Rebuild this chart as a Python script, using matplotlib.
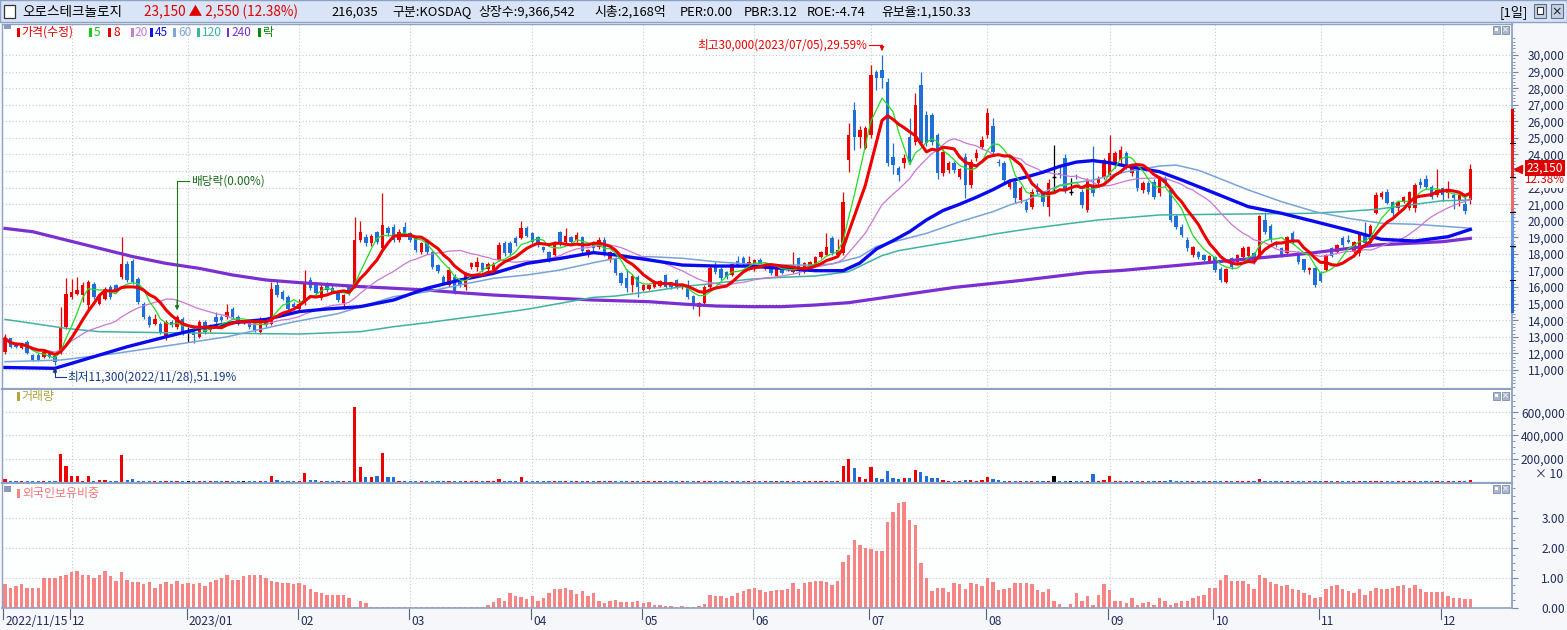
import numpy as np
import pandas as pd
import matplotlib
matplotlib.use('Agg')
import matplotlib.pyplot as plt
import matplotlib.transforms as mtransforms
from matplotlib.patches import Rectangle

plt.rcParams['font.family'] = ['Noto Sans CJK KR', 'DejaVu Sans']
plt.rcParams['axes.unicode_minus'] = False

W, H = 1567, 630

# ---------------- data ----------------
month_starts = [0, 12, 33, 53, 73, 95, 115, 135, 156, 177, 199, 218, 237, 259]
month_labels = ['2022/11/15', '12', '2023/01', '02', '03', '04', '05', '06',
                '07', '08', '09', '10', '11', '12']

opens = [
    12100, 12900, 12600, 12300, 12700, 11900, 11900, 11800, 12100, 11850,
    12000, 13600, 15400, 15600, 15500, 14900, 16200, 15000, 15300, 16000,
    16100, 16600, 17400, 17600, 16500, 15000, 14200, 13800, 13800, 12900,
    13900, 13600, 14100, 13300, 13400, 13000, 13900, 13400, 14200, 14200,
    14200, 14700, 14200, 13900, 14000, 13800, 13300, 14000, 13800, 16100,
    15700, 15400, 15000, 14700, 15020, 16430, 16230, 15320, 16130, 15970,
    15720, 15020, 16030, 16030, 18840, 19000, 18640, 19340, 18340, 19540,
    19640, 18840, 19640, 19240, 18940, 18140, 18840, 18140, 17330, 16630,
    16130, 16630, 16330, 16030, 17190, 17230, 17430, 17070, 17030, 17630,
    18640, 18680, 18940, 18940, 19540, 19240, 19000, 18440, 18140, 17930,
    19340, 18740, 19040, 18840, 19040, 17940, 18640, 18440, 18840, 17640,
    17740, 16830, 16530, 16130, 16630, 15830, 15870, 16030, 16070, 16730,
    16230, 16430, 15990, 16130, 15460, 14820, 15020, 16030, 17270, 17070,
    16930, 16730, 17570, 17730, 17130, 17130, 17630, 17130, 17230, 16670,
    17190, 17030, 16930, 17730, 16930, 17130, 17330, 17830, 17940, 18940,
    17940, 18040, 23670, 26680, 25070, 24370, 25170, 28990, 29100, 28390,
    23870, 23160, 23470, 25070, 24770, 28190, 26380, 26380, 25170, 22860,
    23070, 23470, 22660, 23870, 22160, 23770, 24470, 25170, 25720, 23570,
    23470, 22060, 22360, 21250, 21150, 20850, 21860, 21650, 20850, 22620,
    22900, 23770, 21760, 22660, 21760, 20650, 22060, 22260, 22660, 22760,
    23370, 23670, 24070, 22860, 23060, 21860, 22260, 22360, 21660, 22560,
    21860, 20290, 19650, 18840, 17940, 18140, 17940, 17540, 17840, 17070,
    16330, 17740, 17530, 17840, 17880, 18040, 17840, 20050, 19690, 18740,
    18340, 18040, 19240, 18140, 17670, 17030, 17130, 16870, 17030, 18340,
    18140, 18940, 18840, 18140, 18040, 19080, 18640, 20490, 21450, 21750,
    21150, 20750, 21150, 20750, 20750, 22350, 22550, 22050, 21550, 21950,
    21650, 21550, 21250, 21000, 21250,
]
highs = [
    13200, 12950, 12700, 12600, 12800, 11950, 12000, 12150, 12150, 11900,
    14800, 16550, 16500, 16600, 16300, 16400, 16300, 15600, 16000, 16100,
    16200, 19000, 17600, 17700, 16600, 15100, 14300, 14400, 13900, 14000,
    14000, 14300, 14200, 13600, 13500, 14000, 14000, 13800, 14500, 14300,
    15000, 14800, 14300, 14000, 14100, 13900, 14200, 14100, 16300, 16400,
    15800, 15500, 15100, 15300, 17030, 16600, 16300, 16200, 16300, 16100,
    15800, 15600, 16100, 20230, 20000, 19200, 19200, 19400, 21680, 19700,
    19800, 19500, 19900, 19300, 19000, 18700, 18900, 18200, 17400, 16700,
    17200, 16800, 16400, 16900, 17500, 17800, 17500, 17500, 17500, 18700,
    18800, 18800, 19100, 19990, 19700, 19300, 19100, 18500, 18200, 18800,
    19400, 19540, 19100, 19300, 19100, 18300, 18800, 19000, 19000, 18200,
    17800, 16900, 17100, 16800, 16700, 16200, 16200, 16400, 16450, 16800,
    16300, 16500, 16200, 16400, 15500, 15100, 16100, 17300, 17500, 17200,
    17000, 17450, 17900, 17900, 17850, 17700, 17750, 17450, 17300, 17150,
    17250, 17250, 18100, 17800, 17500, 17600, 17900, 18200, 19250, 19100,
    18900, 21750, 25880, 27180, 25700, 25700, 29400, 29100, 30000, 28600,
    24700, 23300, 24000, 26200, 27700, 29000, 26600, 26500, 25300, 24300,
    23600, 23600, 23200, 24100, 23700, 24300, 25100, 26800, 26200, 23700,
    23600, 22400, 22500, 22100, 21300, 21900, 22300, 21700, 22500, 24570,
    23300, 24000, 22560, 22800, 21900, 22600, 24500, 22700, 23800, 25170,
    24200, 24500, 24200, 23400, 23200, 22400, 22400, 22500, 22700, 22700,
    22000, 20400, 19800, 19000, 18500, 18200, 18000, 17950, 17900, 17200,
    17150, 17800, 18000, 18500, 18500, 18100, 20350, 20550, 19800, 18800,
    18400, 19100, 19400, 18200, 17700, 17200, 17200, 16950, 18000, 18400,
    18600, 19100, 19150, 18800, 19300, 19950, 19800, 21750, 21800, 21900,
    21200, 21200, 21500, 21800, 22250, 22600, 22750, 22150, 23150, 22050,
    22400, 21650, 21650, 21500, 23450,
]
lows = [
    11950, 12300, 12350, 12250, 11950, 11550, 11550, 11750, 11750, 11300,
    11950, 13500, 15300, 15500, 15100, 14700, 15300, 14900, 15200, 15300,
    15700, 16500, 16300, 16200, 15000, 14100, 13600, 13700, 13200, 12800,
    13600, 13500, 13100, 12700, 12600, 12900, 13200, 13300, 13800, 13900,
    14100, 14100, 13700, 13800, 13500, 13300, 13200, 13600, 13700, 15400,
    15200, 14600, 14600, 14500, 14900, 15800, 15500, 15200, 15700, 15650,
    15100, 14700, 15500, 15950, 18700, 18500, 18500, 18600, 18200, 19100,
    18700, 18700, 19100, 18700, 18100, 18000, 18000, 17100, 16850, 16100,
    16000, 15600, 16000, 15800, 17100, 17000, 16900, 17000, 16900, 17550,
    17900, 17900, 18500, 18900, 19000, 18600, 18400, 18100, 17500, 17800,
    18500, 18600, 18600, 18700, 18000, 17800, 18200, 18300, 17900, 17500,
    16700, 16100, 15700, 15700, 15400, 15750, 15800, 15950, 16000, 15950,
    15900, 15900, 15900, 15300, 14700, 14260, 14900, 15900, 16800, 16400,
    16500, 16650, 17200, 17350, 17050, 17000, 17300, 17050, 16750, 16600,
    16800, 16950, 16850, 16750, 16850, 17050, 17250, 17750, 17850, 17950,
    17850, 17950, 22960, 24270, 24400, 24300, 25000, 27900, 28000, 23300,
    22800, 22400, 23200, 23400, 24600, 24500, 24500, 24600, 22500, 22700,
    22900, 22900, 22500, 21400, 22000, 23600, 24300, 25000, 24000, 23300,
    22300, 21900, 21100, 21100, 20500, 20700, 21600, 20900, 20300, 21660,
    22600, 21700, 21550, 22500, 20800, 20500, 21500, 22100, 22500, 22600,
    23200, 23400, 23100, 22700, 21800, 21700, 21600, 21300, 21500, 22100,
    19900, 19500, 19000, 18200, 17800, 17700, 17550, 17450, 16900, 16300,
    16250, 17100, 17400, 17700, 17800, 17400, 17750, 19200, 18700, 18400,
    17800, 17900, 18600, 17400, 16900, 16800, 16000, 16300, 16950, 17800,
    18050, 18400, 18650, 18050, 17900, 18500, 18500, 20400, 21300, 21000,
    20300, 20600, 21050, 20650, 20500, 22000, 21900, 21300, 21450, 21200,
    21400, 20700, 20900, 20400, 21000,
]
closes = [
    12900, 12400, 12400, 12500, 12000, 11600, 11600, 12100, 11800, 11500,
    13600, 15600, 15700, 15800, 16100, 16300, 15400, 15500, 15900, 15400,
    15800, 17400, 16400, 16300, 15100, 14200, 13700, 14100, 13300, 13900,
    13700, 14200, 13200, 13300, 13100, 13900, 13300, 13700, 13900, 14000,
    14500, 14200, 13800, 13900, 13600, 13400, 14100, 13700, 15900, 15500,
    15300, 14700, 14800, 15000, 16330, 15930, 15620, 16030, 15830, 15720,
    15220, 15520, 15620, 18840, 19340, 18680, 19080, 18740, 19750, 19240,
    18840, 19340, 19200, 18840, 18240, 18640, 18140, 17230, 16970, 16230,
    17030, 15720, 16130, 16830, 17430, 17530, 17030, 17390, 17390, 18540,
    18040, 18040, 18640, 19540, 19080, 18740, 18540, 18240, 17630, 18740,
    18640, 19080, 18740, 19140, 18200, 18240, 18340, 18840, 18040, 18140,
    16830, 16230, 15930, 16670, 16030, 16130, 16130, 16330, 16390, 16030,
    15990, 15990, 16130, 15420, 14860, 15020, 16030, 17130, 16930, 16530,
    16590, 17390, 17270, 17430, 17530, 17630, 17390, 17390, 16830, 17070,
    16870, 17190, 17230, 17030, 17430, 17530, 17830, 18140, 18440, 18040,
    18240, 21150, 25170, 25070, 25470, 25570, 28790, 28590, 28590, 23470,
    23370, 22760, 23770, 23570, 26980, 24670, 24670, 24770, 22860, 24170,
    23470, 23070, 23100, 22160, 23570, 24070, 24870, 26480, 24170, 23470,
    22460, 22260, 21350, 21960, 20650, 21760, 21760, 21150, 22260, 22620,
    22760, 21860, 21760, 22620, 20950, 22460, 21660, 22560, 23670, 24070,
    24070, 24270, 23260, 23260, 21960, 22260, 21760, 21460, 22500, 22260,
    20050, 19650, 19140, 18340, 18440, 17840, 17640, 17880, 17030, 16430,
    17070, 17240, 17940, 18340, 18440, 17530, 20290, 19340, 18840, 18540,
    17940, 19040, 18740, 17530, 17030, 17130, 16130, 16390, 17940, 17880,
    18540, 18540, 18740, 18740, 19200, 18640, 19690, 21550, 21650, 21090,
    20490, 21150, 21450, 21750, 22150, 22150, 22050, 21450, 21850, 21550,
    21800, 21350, 21550, 20600, 23150,
]
volumes = [
    23000, 9000, 6000, 6000, 5000, 5000, 5000, 6000, 5000, 6000,
    243000, 138000, 51000, 51000, 10000, 51000, 10000, 17000, 17000, 6000,
    10000, 234000, 17000, 23000, 12000, 12000, 6000, 10000, 6000, 12000,
    6000, 5000, 6000, 5000, 6000, 6000, 5000, 5000, 5000, 6000,
    5000, 5000, 5000, 5000, 5000, 5000, 6000, 5000, 51000, 17000,
    6000, 6000, 6000, 5000, 77000, 15000, 15000, 5000, 5000, 5000,
    5000, 5000, 10000, 643000, 130000, 43000, 43000, 51000, 251000, 43000,
    43000, 10000, 10000, 10000, 6000, 5000, 10000, 5000, 5000, 5000,
    5000, 6000, 5000, 5000, 6000, 5000, 5000, 5000, 5000, 23000,
    5000, 6000, 10000, 43000, 10000, 5000, 5000, 5000, 5000, 5000,
    10000, 10000, 5000, 5000, 5000, 5000, 10000, 5000, 5000, 5000,
    6000, 5000, 5000, 5000, 5000, 5000, 5000, 5000, 5000, 5000,
    5000, 5000, 5000, 5000, 5000, 5000, 5000, 6000, 5000, 5000,
    5000, 5000, 5000, 5000, 5000, 5000, 5000, 5000, 5000, 5000,
    5000, 5000, 6000, 5000, 5000, 5000, 10000, 6000, 10000, 6000,
    6000, 138000, 199000, 121000, 43000, 26000, 130000, 35000, 26000, 95000,
    35000, 26000, 35000, 35000, 104000, 86000, 51000, 35000, 35000, 17000,
    6000, 10000, 10000, 17000, 17000, 10000, 17000, 43000, 26000, 17000,
    10000, 6000, 6000, 10000, 6000, 6000, 6000, 6000, 6000, 51000,
    10000, 10000, 5000, 10000, 10000, 10000, 69000, 5000, 17000, 51000,
    10000, 6000, 6000, 10000, 10000, 6000, 6000, 6000, 6000, 6000,
    17000, 6000, 6000, 6000, 6000, 6000, 6000, 6000, 6000, 6000,
    6000, 6000, 6000, 6000, 6000, 6000, 26000, 6000, 6000, 6000,
    6000, 6000, 6000, 6000, 6000, 6000, 6000, 6000, 6000, 6000,
    6000, 6000, 6000, 6000, 6000, 6000, 6000, 10000, 6000, 6000,
    6000, 6000, 6000, 6000, 10000, 6000, 6000, 6000, 10000, 6000,
    6000, 6000, 6000, 6000, 17000,
]
foreign_ratio = [
    0.78, 0.67, 0.74, 0.78, 0.67, 0.67, 0.67, 0.98, 1.00, 0.98,
    1.06, 1.09, 1.19, 1.22, 1.09, 1.09, 0.98, 1.09, 1.22, 1.06,
    0.89, 1.19, 0.94, 0.87, 0.86, 0.78, 0.86, 0.67, 0.78, 0.86,
    0.78, 0.89, 0.78, 0.81, 0.78, 0.83, 0.72, 0.86, 0.94, 0.98,
    1.09, 0.94, 0.94, 1.06, 1.09, 1.09, 1.11, 0.98, 0.90, 0.86,
    0.81, 0.81, 0.78, 0.81, 0.77, 0.61, 0.52, 0.48, 0.41, 0.41,
    0.41, 0.44, 0.33, 0.02, 0.24, 0.17, 0.02, 0.02, 0.02, 0.02,
    0.02, 0.02, 0.02, 0.02, 0.02, 0.02, 0.02, 0.02, 0.02, 0.02,
    0.02, 0.02, 0.02, 0.02, 0.02, 0.02, 0.02, 0.09, 0.19, 0.31,
    0.22, 0.48, 0.39, 0.36, 0.28, 0.38, 0.22, 0.33, 0.50, 0.64,
    0.61, 0.67, 0.58, 0.47, 0.56, 0.39, 0.50, 0.22, 0.17, 0.21,
    0.26, 0.19, 0.20, 0.19, 0.23, 0.17, 0.19, 0.09, 0.09, 0.07,
    0.07, 0.04, 0.07, 0.04, 0.04, 0.07, 0.12, 0.41, 0.38, 0.38,
    0.34, 0.38, 0.48, 0.56, 0.64, 0.67, 0.58, 0.52, 0.56, 0.58,
    0.58, 0.64, 0.81, 0.64, 0.82, 0.86, 0.89, 0.91, 0.86, 0.77,
    0.91, 1.53, 1.78, 2.28, 2.11, 2.01, 1.96, 1.91, 1.91, 2.88,
    3.21, 3.51, 3.54, 2.92, 2.77, 1.49, 1.01, 0.57, 0.67, 0.67,
    0.52, 0.82, 0.79, 0.64, 0.81, 0.79, 0.73, 1.01, 0.86, 0.58,
    0.64, 0.67, 0.83, 0.81, 0.81, 0.78, 0.58, 0.51, 0.62, 0.23,
    0.12, 0.04, 0.12, 0.48, 0.23, 0.39, 0.09, 0.44, 0.78, 0.58,
    0.23, 0.23, 0.16, 0.33, 0.09, 0.16, 0.18, 0.09, 0.33, 0.23,
    0.09, 0.16, 0.23, 0.23, 0.33, 0.39, 0.43, 0.67, 0.67, 0.94,
    1.08, 0.89, 0.89, 0.91, 0.78, 0.62, 1.08, 0.98, 0.86, 0.78,
    0.71, 0.76, 0.64, 0.58, 0.48, 0.44, 0.33, 0.37, 0.62, 0.71,
    0.76, 0.62, 0.57, 0.48, 0.64, 0.42, 0.57, 0.67, 0.64, 0.62,
    0.67, 0.71, 0.76, 0.67, 0.76, 0.62, 0.51, 0.54, 0.54, 0.51,
    0.39, 0.33, 0.31, 0.28, 0.28,
]

# longer moving averages, read at a handful of bars (their history starts before the chart)
ma45_idx = [0, 9, 16, 22, 29, 35, 41, 47, 53, 58, 64, 70, 76, 82, 88, 94, 100, 106, 110, 116,
            122, 128, 134, 140, 146, 151, 154, 157, 160, 163, 166, 169, 172, 175, 178, 181, 184,
            187, 190, 193, 196, 199, 202, 208, 212, 218, 224, 230, 236, 242, 248, 254, 260, 264]
ma45_val = [11150, 11100, 11800, 12400, 13000, 13500, 13850, 14050, 14520, 14680, 14820, 15220,
            15930, 16430, 16830, 17430, 17730, 18080, 17940, 17640, 17330, 17270, 17270, 17130,
            16990, 16990, 17450, 18300, 18800, 19350, 20050, 20620, 21000, 21420, 21880, 22400,
            22640, 22930, 23280, 23540, 23630, 23500, 23300, 22960, 22460, 21660, 20850, 20450,
            19950, 19440, 18880, 18780, 19040, 19480]
ma60_idx = [0, 10, 20, 30, 40, 52, 60, 70, 76, 82, 88, 94, 100, 106, 110, 116, 122, 128, 134, 140,
            146, 149, 154, 157, 160, 166, 172, 178, 181, 184, 190, 196, 202, 208, 211, 215, 218,
            224, 230, 236, 242, 248, 254, 260, 264]
ma60_val = [11500, 11600, 12000, 12500, 13000, 13900, 14400, 15420, 15720, 16130, 16530, 16730,
            17030, 17470, 17730, 17840, 17740, 17530, 17390, 17330, 17330, 17390, 17830, 18450,
            18720, 19240, 19940, 20550, 20950, 21250, 22150, 22460, 22960, 23300, 23360, 23050,
            22660, 21860, 21150, 20550, 20150, 19850, 19790, 19650, 19550]
ma120_idx = [0, 5, 11, 17, 29, 41, 53, 64, 70, 76, 82, 88, 94, 100, 106, 110, 116, 122, 128, 134,
             140, 146, 152, 158, 161, 167, 173, 179, 185, 191, 197, 208, 223, 235, 241, 247, 253,
             259, 264]
ma120_val = [14050, 13810, 13510, 13310, 13250, 13210, 13170, 13310, 13610, 13850, 14120, 14380,
             14660, 15020, 15380, 15460, 15720, 16030, 16230, 16470, 16590, 16670, 16930, 17900,
             18200, 18540, 18880, 19240, 19540, 19800, 20050, 20350, 20410, 20450, 20550, 20690,
             20950, 21210, 21250]
ma240_idx = [0, 5, 11, 17, 23, 29, 35, 41, 47, 53, 64, 70, 76, 82, 88, 94, 100, 106, 116, 122,
             128, 134, 140, 146, 152, 158, 171, 183, 195, 201, 211, 223, 235, 247, 259, 264]
ma240_val = [19540, 19340, 18840, 18340, 17840, 17430, 17130, 16730, 16430, 16270, 16030, 15930,
             15820, 15660, 15520, 15420, 15320, 15220, 15120, 14980, 14860, 14820, 14820, 14920,
             15060, 15350, 15980, 16400, 16880, 17000, 17300, 17670, 18040, 18540, 18740, 18940]

# price-band gauge on the right edge
band_levels = [26740, 24670, 22660, 20550, 18480, 16430, 14420]
band_colors = ['#dc0000', '#e62a2a', '#ee6a6a', '#6e9be2', '#3c7ad8', '#2566d0']

price_ticks = list(range(11000, 30001, 1000))
volume_ticks = [200000, 400000, 600000]
foreign_ticks = [0, 1, 2, 3]

ex_div_idx = 31
hi_date = '2023/07/05'
lo_date = '2022/11/28'

RED = '#ee0000'
BLUE = '#1f6fd8'
GRID = '#c9c9c9'
SPINE = '#8fa2c4'
TXT = '#1f2b5b'


def box(x0, y0, x1, y1):
    return [x0 / W, 1 - y1 / H, (x1 - x0) / W, (y1 - y0) / H]


def fig_text(fig, x, y, s, **kw):
    kw.setdefault('va', 'center')
    fig.text(x / W, 1 - y / H, s, **kw)


def fig_rect(fig, x0, y0, x1, y1, **kw):
    fig.add_artist(Rectangle((x0 / W, 1 - y1 / H), (x1 - x0) / W, (y1 - y0) / H,
                             transform=fig.transFigure, **kw))


def style_axes(a, bottom_lw=1.6):
    a.set_facecolor('#fdfefe')
    for name, sp in a.spines.items():
        sp.set_color(SPINE)
        sp.set_linewidth(1.0)
    a.spines['bottom'].set_linewidth(bottom_lw)
    a.spines['right'].set_linewidth(1.3)
    a.tick_params(axis='x', which='both', bottom=False, top=False, labelbottom=False)
    a.yaxis.tick_right()
    a.tick_params(axis='y', which='major', direction='out', length=4, width=0.8, color='#7487ad',
                  labelcolor=TXT, labelsize=8.6, pad=34)
    a.tick_params(axis='y', which='minor', direction='out', length=2, width=0.6, color='#7487ad')


def right_align_labels(a):
    for t in a.get_yticklabels():
        t.set_horizontalalignment('right')


def panel_buttons(fig, y):
    for x0 in (1493, 1502):
        fig_rect(fig, x0, y - 4, x0 + 7, y + 4, facecolor='#a9b6cf', edgecolor='#7d8cab', lw=0.6)
    fig_rect(fig, 1495, y - 2, 1498, y + 1, facecolor='white', edgecolor='none')
    fig_text(fig, 1505.5, y, '×', color='white', fontsize=6, ha='center', family='DejaVu Sans')


def main():
    n = len(closes)
    assert len(opens) == n and len(highs) == n and len(lows) == n
    assert len(volumes) == n and len(foreign_ratio) == n
    x = np.arange(n)
    o, h, l, c = (np.array(v, dtype=float) for v in (opens, highs, lows, closes))
    cols = np.where(c > o, RED, np.where(c < o, BLUE, 'black'))
    last, prev = closes[-1], closes[-2]

    fig = plt.figure(figsize=(W / 100, H / 100), dpi=100, facecolor='#f5f7fa')
    ax = fig.add_axes(box(2, 24, 1512, 389))
    axv = fig.add_axes(box(2, 390, 1512, 483))
    axf = fig.add_axes(box(2, 484, 1512, 608))
    xlim = (-0.54, 271.5)

    # ---------- price panel ----------
    style_axes(ax)
    ax.set_xlim(*xlim)
    ax.set_ylim(9853, 31870)
    ax.set_yticks(price_ticks)
    # the label under the last-price box is hidden, as on the original screen
    ax.set_yticklabels(['' if abs(v - last) < 500 else f'{v:,}' for v in price_ticks])
    ax.set_yticks(np.arange(10000, 31001, 200), minor=True)
    right_align_labels(ax)
    ax.grid(axis='y', which='major', color=GRID, linestyle=(0, (1, 2)), linewidth=0.8)
    ax.set_axisbelow(True)

    ax.vlines(x, l, h, colors=cols, linewidth=0.9, zorder=2)
    ax.bar(x, np.maximum(np.abs(c - o), 1), bottom=np.minimum(o, c), width=0.62, color=cols,
           linewidth=0, zorder=2)
    flat = c == o
    ax.hlines(c[flat], x[flat] - 0.4, x[flat] + 0.4, colors='black', linewidth=1.0, zorder=2)

    cs = pd.Series(c)
    ax.plot(ma240_idx, ma240_val, color='#7b2fd1', lw=2.3, zorder=3)
    ax.plot(ma120_idx, ma120_val, color='#40b3a0', lw=1.1, zorder=3)
    ax.plot(ma60_idx, ma60_val, color='#78a3d8', lw=1.1, zorder=3)
    ax.plot(x, cs.rolling(20, min_periods=1).mean(), color='#cc77d4', lw=0.9, zorder=3)
    ax.plot(ma45_idx, ma45_val, color='#0a0aee', lw=2.4, zorder=3)
    ax.plot(x, cs.rolling(5, min_periods=1).mean(), color='#22dd22', lw=0.9, zorder=3)
    ax.plot(x, cs.rolling(8, min_periods=1).mean(), color=RED, lw=2.2, zorder=4)

    hi_i = int(np.argmax(h)); hi = int(h[hi_i])
    lo_i = int(np.argmin(l)); lo = int(l[lo_i])

    # high annotation
    ax.plot([hi_i - 2.4, hi_i], [hi + 600, hi + 600], color=RED, lw=0.8, zorder=5)
    ax.annotate('', xy=(hi_i, hi + 230), xytext=(hi_i, hi + 610),
                arrowprops=dict(arrowstyle='-|>', color=RED, lw=0.8, mutation_scale=6,
                                shrinkA=0, shrinkB=0), zorder=5)
    ax.text(hi_i - 2.6, hi + 600, f'최고{hi:,}({hi_date}),{(hi - last) / last * 100:.2f}%',
            ha='right', va='center', color=RED, fontsize=8.4, zorder=5)
    # low annotation
    ax.plot([lo_i, lo_i, lo_i + 2.0], [lo - 200, lo - 720, lo - 720], color='#17398a', lw=0.8, zorder=5)
    ax.annotate('', xy=(lo_i, lo - 150), xytext=(lo_i, lo - 500),
                arrowprops=dict(arrowstyle='-|>', color='#17398a', lw=0.8, mutation_scale=6,
                                shrinkA=0, shrinkB=0), zorder=5)
    ax.text(lo_i + 2.3, lo - 720, f'최저{lo:,}({lo_date}),{(last - lo) / last * 100:.2f}%',
            ha='left', va='center', color='#17398a', fontsize=8.4, zorder=5)
    # ex-dividend annotation
    ex_top = 22400
    ax.plot([ex_div_idx + 2.2, ex_div_idx, ex_div_idx], [ex_top, ex_top, h[ex_div_idx] + 600],
            color='#1a7a1a', lw=0.8, zorder=5)
    ax.annotate('', xy=(ex_div_idx, h[ex_div_idx] + 300), xytext=(ex_div_idx, h[ex_div_idx] + 900),
                arrowprops=dict(arrowstyle='-|>', color='#1a7a1a', lw=0.8, mutation_scale=6,
                                shrinkA=0, shrinkB=0), zorder=5)
    ax.text(ex_div_idx + 2.6, ex_top, '배당락(0.00%)', ha='left', va='center', color='#1a6a1a',
            fontsize=8.4, zorder=5)

    # right-edge gauge and last price marker
    trans = mtransforms.blended_transform_factory(fig.transFigure, ax.transData)
    for top, bot, col in zip(band_levels[:-1], band_levels[1:], band_colors):
        ax.add_patch(Rectangle((1510.5 / W, bot), 3.5 / W, top - bot, transform=trans,
                               facecolor=col, edgecolor='none', clip_on=False, zorder=6))
    for lev in band_levels[1:-1]:
        ax.plot([1510 / W, 1515 / W], [lev, lev], transform=trans, color='black', lw=0.8,
                clip_on=False, zorder=7)
    ax.plot([1518 / W], [last], marker='<', color='#e00000', markersize=6, transform=trans,
            clip_on=False, zorder=7)
    # the change label sits on a white patch over the 22,000 label, as on screen
    ax.text(1564.5 / W, last - 690, f'{(last - prev) / prev * 100:.2f}%', transform=trans,
            ha='right', va='center', color='#e00000', fontsize=8.4, clip_on=False, zorder=7,
            bbox=dict(facecolor='white', edgecolor='none', pad=0.8))
    ax.text(1545 / W, last + 40, f'{last:,}', transform=trans, ha='center', va='center',
            color='white', fontsize=8.6, clip_on=False, zorder=8,
            bbox=dict(facecolor='#dd0000', edgecolor='none', pad=1.0))

    # ---------- volume panel ----------
    style_axes(axv)
    axv.set_xlim(*xlim)
    axv.set_ylim(-9500, 792000)
    axv.set_yticks(volume_ticks)
    axv.set_yticklabels([f'{v:,}' for v in volume_ticks])
    axv.set_yticks(np.arange(50000, 780000, 50000), minor=True)
    right_align_labels(axv)
    axv.spines['top'].set_visible(False)
    axv.grid(axis='y', which='major', color=GRID, linestyle=(0, (1, 2)), linewidth=0.8)
    axv.set_axisbelow(True)
    axv.bar(x, volumes, width=0.58, color=cols, linewidth=0, zorder=2)

    # ---------- foreign ownership panel ----------
    style_axes(axf, bottom_lw=1.2)
    axf.set_xlim(*xlim)
    axf.set_ylim(-0.01, 4.14)
    axf.set_yticks(foreign_ticks)
    axf.set_yticklabels([f'{v:.2f}' for v in foreign_ticks])
    axf.set_yticks(np.arange(0, 4.1, 0.25), minor=True)
    right_align_labels(axf)
    axf.spines['top'].set_visible(False)
    axf.grid(axis='y', which='major', color=GRID, linestyle=(0, (1, 2)), linewidth=0.8)
    axf.set_axisbelow(True)
    axf.bar(x, foreign_ratio, width=0.62, color='#f78585', linewidth=0, zorder=2)

    for a in (ax, axv, axf):
        for m in month_starts[1:]:
            a.axvline(m, color=GRID, linestyle=(0, (1, 2)), linewidth=0.8, zorder=0)

    # date axis
    dtrans = mtransforms.blended_transform_factory(axf.transData, axf.transAxes)
    for m, lab in zip(month_starts, month_labels):
        axf.plot([m - 0.3, m - 0.3], [-0.01, -0.085], transform=dtrans, color='#55607a', lw=0.8,
                 clip_on=False)
        axf.text(m + 0.15, -0.112, lab, transform=dtrans, ha='left', va='center', color=TXT,
                 fontsize=8.6, clip_on=False)

    # ---------- frame decorations ----------
    fig_rect(fig, 0, 0, W, 22, facecolor='#d9e5f6', edgecolor='#8da1c5', lw=1.0)
    fig_rect(fig, 4, 5, 15, 18, facecolor='white', edgecolor='#333333', lw=0.9)
    fig_text(fig, 22, 12, '오로스테크놀로지', color='black', fontsize=9.8)
    fig_text(fig, 144, 12, f'{last:,} ▲ {last - prev:,} ({(last - prev) / prev * 100:.2f}%)',
             color='#e00000', fontsize=9.8)
    title_parts = [(331, '216,035'), (392, '구분:KOSDAQ'), (478, '상장수:9,366,542'),
                   (594, '시총:2,168억'), (680, 'PER:0.00'), (744, 'PBR:3.12'),
                   (807, 'ROE:-4.74'), (881, '유보율:1,150.33')]
    for px_, s in title_parts:
        fig_text(fig, px_, 12, s, color='black', fontsize=9.3)
    fig_text(fig, 1500, 12, '[1일]', color='black', fontsize=9.5)
    for x0 in (1534, 1551):
        fig_rect(fig, x0, 4, x0 + 12, 18, facecolor='#c3cfe3', edgecolor='#5f6f90', lw=0.8)
    fig_rect(fig, 1537, 7, 1543, 14, facecolor='white', edgecolor='#333333', lw=0.8)
    fig_text(fig, 1557, 11.5, '×', color='#222222', fontsize=9, ha='center', family='DejaVu Sans')

    # legend row of the price panel
    fig_rect(fig, 4, 24, 11, 29, facecolor='#8b9bbf', edgecolor='none')
    legend_items = [(18, 21, '가격(수정)', '#e00000'), (90, 94, '5', '#19c819'),
                    (109, 113, '8', '#e00000'), (132, 135, '20', '#c77ad6'),
                    (151, 155, '45', '#1010ee'), (174, 178, '60', '#7ea6da'),
                    (198, 202, '120', '#40b3a0'), (228, 232, '240', '#7b2fd1'),
                    (259, 263, '락', '#0a8a0a')]
    for bx, tx, s, col in legend_items:
        fig_rect(fig, bx - 1, 28, bx + 1.5, 37, facecolor=col, edgecolor='none')
        fig_text(fig, tx, 32.5, s, color=col, fontsize=8.6)
    panel_buttons(fig, 30)

    fig_rect(fig, 17, 392, 19.5, 401, facecolor='#b5a63a', edgecolor='none')
    fig_text(fig, 21, 396.5, '거래량', color='#b0a23a', fontsize=8.6)
    panel_buttons(fig, 396)
    fig_text(fig, 1563, 474, '× 10', color=TXT, fontsize=8.6, ha='right')

    fig_rect(fig, 4, 486, 11, 492, facecolor='#8b9bbf', edgecolor='none')
    fig_rect(fig, 17, 489, 19.5, 498, facecolor='#f78585', edgecolor='none')
    fig_text(fig, 22, 493.5, '외국인보유비중', color='#f07878', fontsize=8.6)
    panel_buttons(fig, 489)

    fig.savefig('out.png', dpi=100, facecolor=fig.get_facecolor())


if __name__ == '__main__':
    main()
